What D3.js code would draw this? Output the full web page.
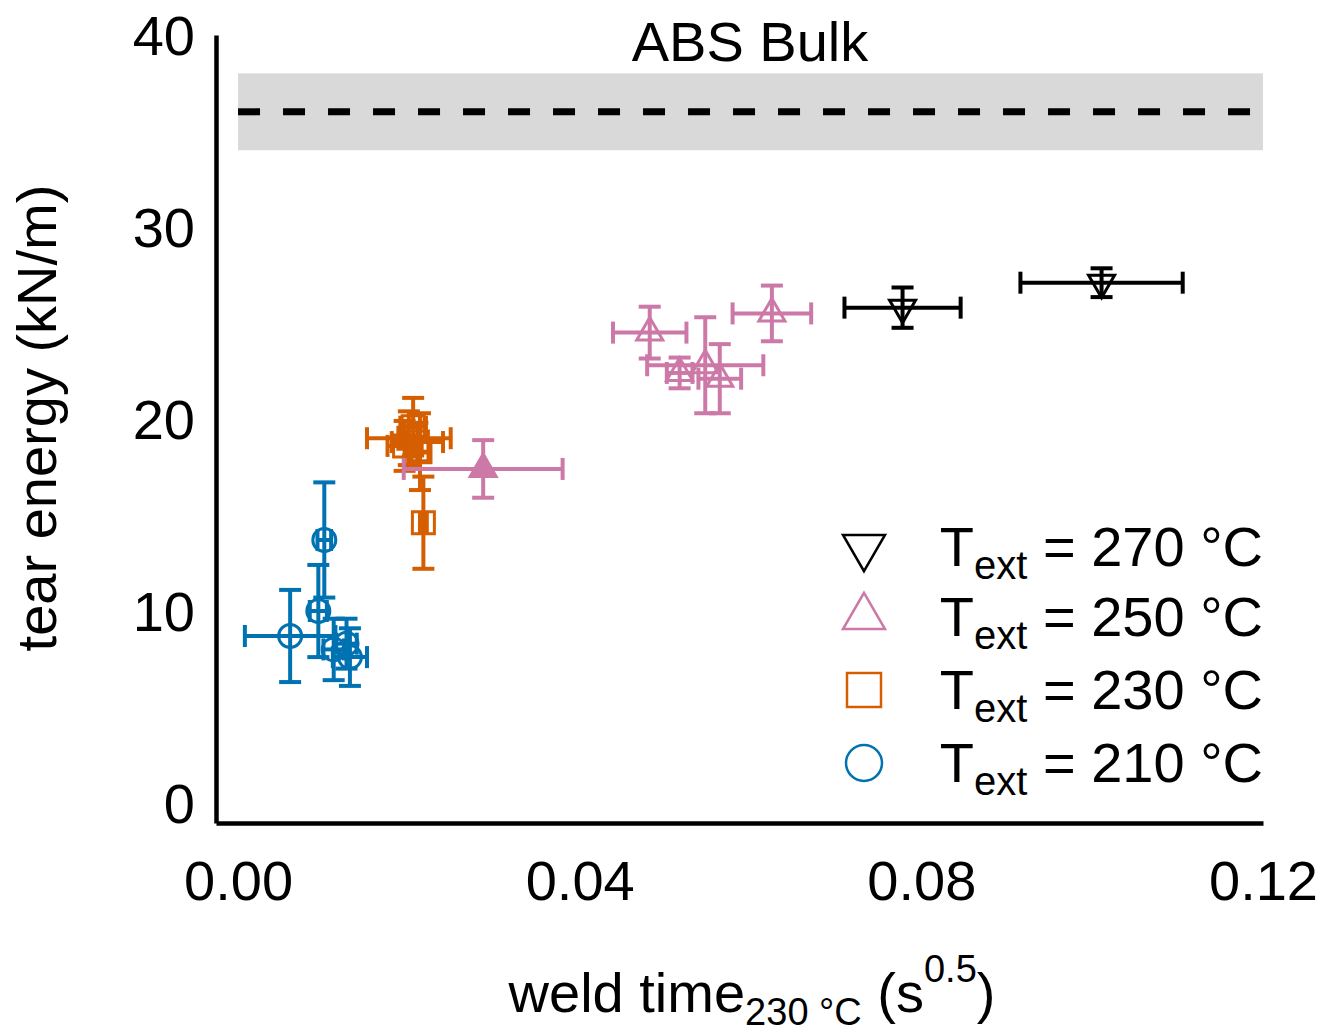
<!DOCTYPE html>
<html>
<head>
<meta charset="utf-8">
<script src="https://cdn.jsdelivr.net/npm/d3@7"></script>
<style>
  html, body { margin: 0; padding: 0; background: #fff; }
  svg { display: block; font-family: "Liberation Sans", Arial, sans-serif; }
</style>
</head>
<body>
<svg id="chart" width="1340" height="1032"></svg>
<script>
// Tick values
const xTicks = [0, 0.04, 0.08, 0.12];
const yTicks = [0, 10, 20, 30, 40];

// Bulk ABS reference (mean and spread, kN/m)
const bulkMean = 36;
const bulkLow = 34;
const bulkHigh = 38;

// Series: weld time (x), tear energy (y), and their error half-widths
const t210 = [
  { x: 0.0061, y: 8.7,  xe: 0.0053, ye: 2.4 },
  { x: 0.0101, y: 13.7, xe: 0.0008, ye: 3.0 },
  { x: 0.0094, y: 10.0, xe: 0.0010, ye: 2.4 },
  { x: 0.0112, y: 8.0,  xe: 0.0012, ye: 1.6 },
  { x: 0.0127, y: 8.3,  xe: 0.0012, ye: 1.3 },
  { x: 0.0131, y: 7.6,  xe: 0.0020, ye: 1.5 }
];
const t230 = [
  { x: 0.0200, y: 19.0, xe: 0.0049, ye: 1.4 },
  { x: 0.0205, y: 19.6, xe: 0.0015, ye: 1.5 },
  { x: 0.0210, y: 18.8, xe: 0.0030, ye: 1.0 },
  { x: 0.0195, y: 18.6, xe: 0.0020, ye: 1.3 },
  { x: 0.0213, y: 18.3, xe: 0.0010, ye: 2.0 },
  { x: 0.0217, y: 14.6, xe: 0.0004, ye: 2.4 }
];
const t250 = [
  { x: 0.0287, y: 17.4, xe: 0.0093, ye: 1.5, filled: true },
  { x: 0.0482, y: 24.5, xe: 0.0043, ye: 1.35 },
  { x: 0.0625, y: 25.5, xe: 0.0046, ye: 1.45 },
  { x: 0.0517, y: 22.4, xe: 0.0015, ye: 0.8 },
  { x: 0.0547, y: 22.8, xe: 0.0068, ye: 2.5 },
  { x: 0.0564, y: 22.1, xe: 0.0025, ye: 1.8 }
];
const t270 = [
  { x: 0.0778, y: 25.8, xe: 0.0068, ye: 1.05 },
  { x: 0.1011, y: 27.1, xe: 0.0095, ye: 0.75 }
];

const seriesLabels = ["270", "250", "230", "210"];
const seriesColors = ["#000000", "#cc79a7", "#d55e00", "#0072b2"];
const seriesShapes = ["down", "up", "square", "circle"];
const seriesData = [t270, t250, t230, t210];

const svg = d3.select("#chart");
const FONT = 56;

const x = d3.scaleLinear().domain([-0.00258, 0.12]).range([216, 1263]);
const y = d3.scaleLinear().domain([-1.04, 40]).range([823, 35]);

// Bulk band and mean line
svg.append("rect")
  .attr("x", x(0)).attr("width", x(0.12) - x(0))
  .attr("y", y(bulkHigh)).attr("height", y(bulkLow) - y(bulkHigh))
  .attr("fill", "#d9d9d9");
svg.append("line")
  .attr("x1", x(0)).attr("x2", x(0.12))
  .attr("y1", y(bulkMean)).attr("y2", y(bulkMean))
  .attr("stroke", "#000").attr("stroke-width", 7)
  .attr("stroke-dasharray", "22 23");

function placedText(g, tx, ty, anchor, size) {
  return g.append("text")
    .attr("transform", `translate(${tx},${ty})`)
    .attr("text-anchor", anchor)
    .attr("font-size", size);
}

placedText(svg, 750, 61, "middle", FONT).text("ABS Bulk");

// Axes (no tick marks, labels only)
const xAxis = svg.append("g").attr("transform", "translate(0,823)")
  .call(d3.axisBottom(x).tickValues(xTicks).tickSize(0).tickFormat(d3.format(".2f")));
xAxis.select(".domain").attr("stroke", "#000").attr("stroke-width", 4.5);
xAxis.selectAll(".tick text")
  .attr("font-size", FONT).attr("fill", "#000").attr("font-family", "Liberation Sans, Arial")
  .attr("y", 0).attr("dy", 0)
  .attr("transform", "translate(0,77)");

const yAxis = svg.append("g").attr("transform", "translate(216,0)")
  .call(d3.axisLeft(y).tickValues(yTicks).tickSize(0));
yAxis.select(".domain").attr("stroke", "#000").attr("stroke-width", 4.5);
yAxis.selectAll(".tick text")
  .attr("font-size", FONT).attr("fill", "#000").attr("font-family", "Liberation Sans, Arial")
  .attr("x", 0).attr("dy", 0)
  .attr("transform", "translate(-21,19)");

// Axis titles
svg.append("text")
  .attr("transform", "translate(56,418) rotate(-90)")
  .attr("text-anchor", "middle").attr("font-size", FONT)
  .text("tear energy (kN/m)");

const xt = placedText(svg, 752, 1012, "middle", FONT);
xt.append("tspan").text("weld time");
xt.append("tspan").attr("font-size", 38).attr("dy", 13).text("230 °C");
xt.append("tspan").attr("dy", -13).text(" (s");
xt.append("tspan").attr("font-size", 38).attr("dy", -30).text("0.5");
xt.append("tspan").attr("dy", 30).text(")");

// Marker path generators
function markerPath(shape, s) {
  if (shape === "circle") return d3.symbol(d3.symbolCircle, Math.PI * s * s / 4)();
  if (shape === "square") return `M${-s/2},${-s/2}H${s/2}V${s/2}H${-s/2}Z`;
  const h = s * Math.sqrt(3) / 2;
  if (shape === "up") return `M0,${-2*h/3}L${s/2},${h/3}L${-s/2},${h/3}Z`;
  return `M0,${2*h/3}L${s/2},${-h/3}L${-s/2},${-h/3}Z`;
}

const cap = 11;
// draw lowest temperature first so hotter series sit on top
for (let i = seriesData.length - 1; i >= 0; i--) {
  const color = seriesColors[i];
  const g = svg.append("g").attr("stroke", color).attr("fill", "none");
  seriesData[i].forEach(d => {
    const px = x(d.x), py = y(d.y);
    const x0 = x(d.x - d.xe), x1 = x(d.x + d.xe);
    const y0 = y(d.y - d.ye), y1 = y(d.y + d.ye);
    const p = g.append("g").attr("stroke-width", 4);
    p.append("line").attr("x1", x0).attr("x2", x1).attr("y1", py).attr("y2", py);
    p.append("line").attr("x1", px).attr("x2", px).attr("y1", y0).attr("y2", y1);
    p.append("line").attr("x1", x0).attr("x2", x0).attr("y1", py - cap).attr("y2", py + cap);
    p.append("line").attr("x1", x1).attr("x2", x1).attr("y1", py - cap).attr("y2", py + cap);
    p.append("line").attr("x1", px - cap).attr("x2", px + cap).attr("y1", y0).attr("y2", y0);
    p.append("line").attr("x1", px - cap).attr("x2", px + cap).attr("y1", y1).attr("y2", y1);
    const sz = seriesShapes[i] === "circle" ? 23 : seriesShapes[i] === "square" ? 22 : 26;
    g.append("path")
      .attr("d", markerPath(seriesShapes[i], sz))
      .attr("transform", `translate(${px},${py})`)
      .attr("stroke-width", 3)
      .attr("fill", d.filled ? color : "none");
  });
}

// Legend
const legendRows = [547, 617, 690, 763];
seriesLabels.forEach((lab, i) => {
  const ly = legendRows[i];
  const sz = seriesShapes[i] === "circle" ? 36 : seriesShapes[i] === "square" ? 34 : 42;
  svg.append("path")
    .attr("d", markerPath(seriesShapes[i], sz))
    .attr("transform", `translate(864,${ly})`)
    .attr("fill", "none").attr("stroke", seriesColors[i]).attr("stroke-width", 2.5);
  const t = placedText(svg, 1263, ly + 19, "end", FONT);
  t.append("tspan").text("T");
  t.append("tspan").attr("font-size", 40).attr("dy", 13).text("ext");
  t.append("tspan").attr("dy", -13).text(` = ${lab} °C`);
});
</script>
</body>
</html>
